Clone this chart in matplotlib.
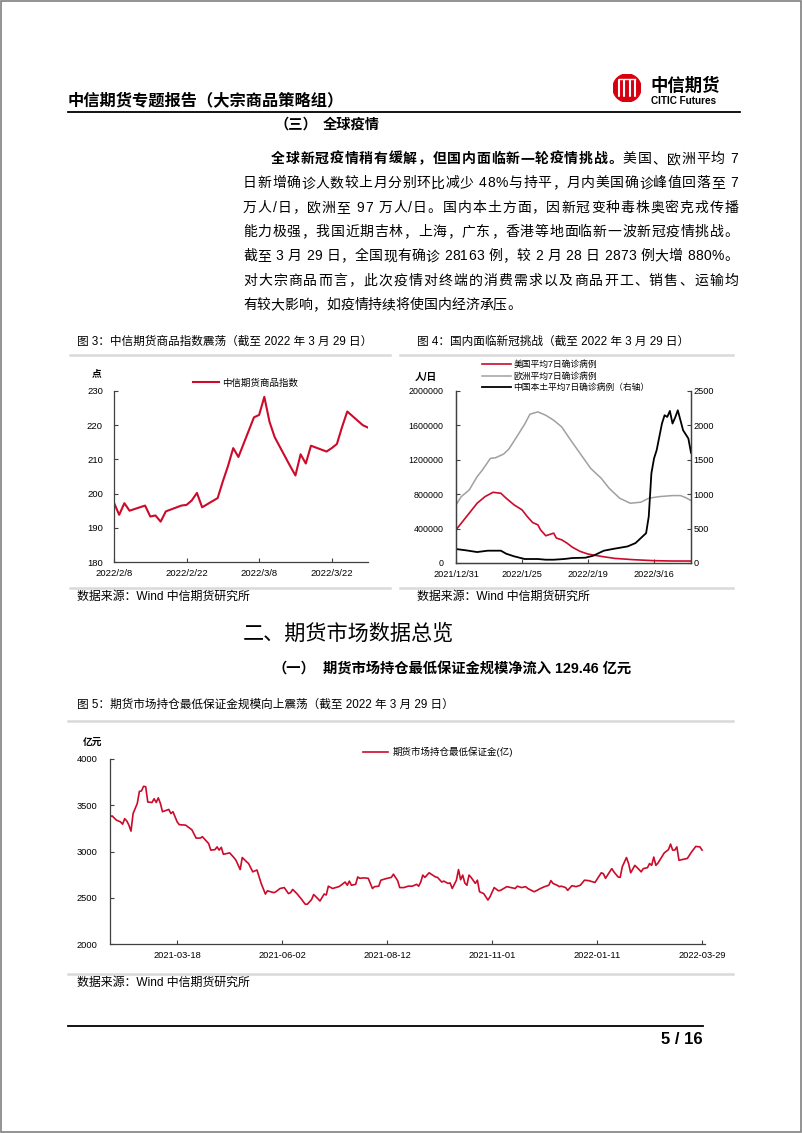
import numpy as np
import pandas as pd
import matplotlib
matplotlib.use("Agg")
import matplotlib.pyplot as plt
from matplotlib.lines import Line2D
from matplotlib.patches import Circle, Rectangle
from matplotlib.font_manager import FontProperties, findfont
from matplotlib.ft2font import FT2Font

FAMILY = ['Liberation Sans', 'Noto Sans CJK SC', 'DejaVu Sans']
plt.rcParams['font.family'] = FAMILY

RED = '#CC0A2A'
GRAY = '#A0A0A0'
AXC = '#404040'
SEP = '#D9D9D9'

# ---- data ----
# fig 3: CITIC futures commodity index (trading days)
idx_dates = ['2022-02-08', '2022-02-09', '2022-02-10', '2022-02-11', '2022-02-14',
             '2022-02-15', '2022-02-16', '2022-02-17', '2022-02-18', '2022-02-21',
             '2022-02-22', '2022-02-23', '2022-02-24', '2022-02-25', '2022-02-28',
             '2022-03-01', '2022-03-02', '2022-03-03', '2022-03-04', '2022-03-07',
             '2022-03-08', '2022-03-09', '2022-03-10', '2022-03-11', '2022-03-14',
             '2022-03-15', '2022-03-16', '2022-03-17', '2022-03-18', '2022-03-21',
             '2022-03-22', '2022-03-23', '2022-03-24', '2022-03-25', '2022-03-28',
             '2022-03-29']
idx_vals = [197.3, 193.8, 197.2, 195.0, 196.5, 193.3, 193.6, 191.8, 194.8, 196.5,
            196.7, 198.0, 200.2, 196.0, 198.7, 203.6, 208.1, 213.3, 210.7, 222.3,
            223.0, 228.3, 221.0, 216.5, 208.0, 205.3, 211.5, 208.8, 214.0, 212.3,
            213.3, 214.5, 219.5, 224.0, 220.0, 219.3]
idx_ticks = ['2022-02-08', '2022-02-22', '2022-03-08', '2022-03-22']
idx_ticklabels = ['2022/2/8', '2022/2/22', '2022/3/8', '2022/3/22']

# fig 4: 7-day average cases, days counted from 2021-12-31
us_day = [0, 4, 8, 11, 14, 17, 19, 22, 25, 27, 29, 31, 32, 34, 37, 38, 40, 42, 44,
          47, 50, 55, 60, 67, 75, 82, 89]
us_val = [386000, 540000, 695000, 772000, 822000, 811000, 753000, 676000, 618000,
          540000, 471000, 444000, 386000, 317000, 347000, 290000, 270000, 232000,
          185000, 135000, 104000, 77000, 54000, 39000, 27000, 23000, 23000]
eu_day = [0, 2, 5, 8, 10, 13, 15, 18, 20, 23, 26, 28, 31, 34, 37, 40, 43, 47, 51,
          55, 58, 62, 66, 70, 73, 77, 82, 85, 87, 89]
eu_val = [676000, 772000, 849000, 1004000, 1081000, 1216000, 1224000, 1266000,
          1324000, 1467000, 1614000, 1730000, 1757000, 1718000, 1660000, 1583000,
          1448000, 1274000, 1100000, 985000, 869000, 753000, 695000, 707000, 753000,
          772000, 784000, 784000, 760000, 726000]
cn_day = [0, 4, 8, 12, 17, 19, 22, 26, 31, 34, 37, 41, 44, 49, 52, 56, 60, 65, 68,
          70, 72, 73, 74, 75, 76, 78, 79, 80, 81, 82, 83, 84, 85, 86, 88, 89]
cn_val = [203, 183, 159, 179, 179, 135, 97, 58, 58, 48, 48, 58, 72, 77, 106, 179,
          208, 241, 290, 362, 434, 676, 1303, 1520, 1641, 2027, 2148, 2123, 2210,
          2027, 2114, 2220, 2075, 1930, 1810, 1602]
cov_ticks = [0, 25, 50, 75]
cov_ticklabels = ['2021/12/31', '2022/1/25', '2022/2/19', '2022/3/16']

# fig 5: futures margin (亿元), trading-day index
mg_idx = [0, 1, 3, 5, 6, 7, 8, 9, 10, 11, 13, 14, 15, 16, 17, 18, 20, 21, 22, 23,
          24, 25, 28, 29, 30, 32, 33, 36, 39, 41, 43, 44, 47, 48, 50, 51, 52, 53,
          54, 57, 59, 60, 62, 63, 65, 66, 68, 70, 72, 74, 75, 78, 79, 81, 83, 85,
          86, 87, 89, 91, 93, 94, 96, 97, 99, 100, 102, 103, 104, 106, 109, 110,
          112, 113, 114, 115, 117, 118, 119, 121, 123, 125, 126, 128, 129, 132,
          134, 135, 137, 138, 140, 142, 144, 146, 147, 148, 149, 150, 152, 155,
          156, 158, 159, 161, 162, 163, 165, 166, 167, 168, 169, 170, 171, 172,
          174, 175, 176, 178, 180, 181, 183, 185, 186, 189, 191, 193, 194, 196,
          198, 199, 202, 203, 205, 207, 209, 210, 211, 212, 213, 214, 215, 217,
          218, 220, 221, 222, 224, 226, 228, 231, 233, 234, 235, 236, 239, 240,
          242, 243, 244, 246, 247, 248, 250, 252, 253, 254, 256, 257, 258, 259,
          260, 261, 264, 266, 267, 268, 269, 270, 271, 273, 275, 277, 279, 281,
          282]
mg_val = [3375, 3385, 3340, 3320, 3295, 3355, 3330, 3285, 3220, 3410, 3520, 3650,
          3655, 3705, 3700, 3535, 3530, 3570, 3530, 3580, 3520, 3430, 3455, 3410,
          3430, 3320, 3290, 3285, 3235, 3145, 3145, 3160, 3085, 3015, 3020, 3050,
          3015, 3045, 2970, 2985, 2935, 2905, 2805, 2935, 2890, 2870, 2780, 2800,
          2655, 2540, 2575, 2555, 2565, 2600, 2610, 2545, 2555, 2590, 2545, 2490,
          2430, 2430, 2480, 2535, 2490, 2465, 2540, 2530, 2625, 2600, 2620, 2635,
          2670, 2635, 2680, 2635, 2645, 2725, 2710, 2715, 2710, 2600, 2620, 2625,
          2690, 2710, 2720, 2755, 2685, 2610, 2610, 2625, 2625, 2645, 2625, 2670,
          2745, 2720, 2770, 2725, 2720, 2670, 2680, 2655, 2660, 2600, 2690, 2805,
          2695, 2745, 2660, 2635, 2745, 2720, 2655, 2690, 2565, 2545, 2475, 2510,
          2610, 2575, 2580, 2620, 2610, 2600, 2625, 2610, 2620, 2600, 2565, 2575,
          2600, 2620, 2635, 2685, 2655, 2645, 2635, 2620, 2625, 2610, 2580, 2630,
          2625, 2620, 2635, 2690, 2685, 2665, 2735, 2770, 2760, 2710, 2815, 2780,
          2725, 2720, 2835, 2935, 2870, 2770, 2850, 2805, 2780, 2815, 2825, 2870,
          2850, 2940, 2850, 2875, 2985, 3020, 3080, 3015, 3015, 3050, 2905, 2915,
          2925, 2995, 3055, 3050, 3015]
mg_ticks = [32, 82, 132, 182, 232, 282]
mg_ticklabels = ['2021-03-18', '2021-06-02', '2021-08-12', '2021-11-01',
                 '2022-01-11', '2022-03-29']

para_lines = [
    [('全球新冠疫情稍有缓解，但国内面临新一轮疫情挑战。', 'bold'), ('美国、欧洲平均 7', 'normal')],
    [('日新增确诊人数较上月分别环比减少 48%与持平，月内美国确诊峰值回落至 7', 'normal')],
    [('万人/日，欧洲至 97 万人/日。国内本土方面，因新冠变种毒株奥密克戎传播', 'normal')],
    [('能力极强，我国近期吉林，上海，广东，香港等地面临新一波新冠疫情挑战。', 'normal')],
    [('截至 3 月 29 日，全国现有确诊 28163 例，较 2 月 28 日 2873 例大增 880%。', 'normal')],
    [('对大宗商品而言，此次疫情对终端的消费需求以及商品开工、销售、运输均', 'normal')],
    [('有较大影响，如疫情持续将使国内经济承压。', 'normal')],
]

# ---- page ----
W, H = 802, 1133
fig = plt.figure(figsize=(W / 100, H / 100), dpi=100)


def fx(x):
    return x / W


def fy(y):
    return 1 - y / H


def rect(l, t, r, b):
    return [l / W, 1 - b / H, (r - l) / W, (b - t) / H]


def ptext(x, y, s, size, weight='normal', ha='left', color='black'):
    fig.text(fx(x), fy(y), s, fontsize=size, fontweight=weight, ha=ha,
             va='center', color=color)


def hline(x0, x1, y, color='black', lw=1.0):
    fig.add_artist(Line2D([fx(x0), fx(x1)], [fy(y), fy(y)],
                          transform=fig.transFigure, color=color, lw=lw))


_fonts = {}


def advance(ch, weight, size):
    fam = 'Liberation Sans' if ord(ch) < 128 else 'Noto Sans CJK SC'
    key = (fam, weight)
    if key not in _fonts:
        _fonts[key] = FT2Font(findfont(FontProperties(family=fam, weight=weight)),
                              hinting_factor=1)
    f = _fonts[key]
    f.set_size(size, 100)
    return f.load_char(ord(ch)).linearHoriAdvance / 65536


def justify(segments, x0, x1, y, size, last=False):
    # spread the characters of one line evenly between x0 and x1
    chars = [(c, w) for s, w in segments for c in s]
    adv = [advance(c, w, size) for c, w in chars]
    gap = 0 if last else (x1 - x0 - sum(adv)) / (len(chars) - 1)
    x = x0
    for (c, w), a in zip(chars, adv):
        if c != ' ':
            fig.text(fx(x), fy(y), c, fontsize=size, fontweight=w,
                     ha='left', va='center')
        x += a + gap


# border
fig.add_artist(Rectangle((0.001, 0.001), 0.998, 0.998, transform=fig.transFigure,
                         fill=False, edgecolor='#808080', lw=1.2))

# header
ptext(68, 100, '中信期货专题报告（大宗商品策略组）', 11.7, 'bold')
hline(68, 740, 112, lw=1.3)
logo = fig.add_axes(rect(613, 74, 641, 102))
logo.set_xlim(-1, 1)
logo.set_ylim(-1, 1)
logo.set_aspect('equal')
logo.axis('off')
logo.add_patch(Circle((0, 0), 1, color='#D7000F'))
for xb in [-0.55, -0.2, 0.2, 0.55]:
    logo.plot([xb, xb], [-0.55, 0.55], color='white', lw=1.5, solid_capstyle='round')
logo.plot([-0.55, 0.55], [0.62, 0.62], color='white', lw=1.0)
ptext(650, 85, '中信期货', 12.5, 'bold')
ptext(651, 101, 'CITIC Futures', 7.2, 'bold')

# section (三)
ptext(275, 125, '（三）', 10.3, 'bold')
ptext(323, 125, '全球疫情', 10.3, 'bold')
for k, segs in enumerate(para_lines):
    y = 159 + k * 24.3
    x0 = 271 if k == 0 else 243
    justify(segs, x0, 738, y, 10, last=(k == len(para_lines) - 1))

# ---- figure 3 ----
ptext(77, 342, '图 3：中信期货商品指数震荡（截至 2022 年 3 月 29 日）', 8.4)
hline(70, 390, 355, SEP, 1.8)
hline(70, 390, 588, SEP, 1.8)
ptext(77, 597, '数据来源：Wind 中信期货研究所', 8.6)
ptext(92, 373, '点', 7, 'bold')


def style_axes(ax, sides=('left', 'bottom')):
    for s in ['left', 'right', 'top', 'bottom']:
        ax.spines[s].set_visible(s in sides)
        ax.spines[s].set_color(AXC)
        ax.spines[s].set_linewidth(0.9)
    ax.tick_params(direction='in', length=3, width=0.8, color=AXC)
    ax.patch.set_alpha(0)


ax3 = fig.add_axes(rect(114, 391, 368, 562))
style_axes(ax3)
start3 = pd.Timestamp('2022-02-08')
x3 = (pd.to_datetime(idx_dates) - start3).days
ax3.plot(x3, idx_vals, color=RED, lw=1.5, label='中信期货商品指数')
ax3.set_xlim(0, 49)
ax3.set_ylim(180, 230)
ax3.set_yticks(np.arange(180, 231, 10))
ax3.set_xticks((pd.to_datetime(idx_ticks) - start3).days)
ax3.set_xticklabels(idx_ticklabels)
ax3.tick_params(axis='y', labelsize=6.8, pad=8)
ax3.tick_params(axis='x', labelsize=6.8, pad=5)
ax3.legend(loc='center left', bbox_to_anchor=(fx(193), fy(383)),
           bbox_transform=fig.transFigure, frameon=False, fontsize=6.8,
           handlelength=2.7, handletextpad=0.4, borderpad=0, borderaxespad=0)

# ---- figure 4 ----
ptext(417, 342, '图 4：国内面临新冠挑战（截至 2022 年 3 月 29 日）', 8.4)
hline(400, 733, 355, SEP, 1.8)
hline(400, 733, 588, SEP, 1.8)
ptext(417, 597, '数据来源：Wind 中信期货研究所', 8.6)
ptext(415, 377, '人/日', 7, 'bold')

ax4 = fig.add_axes(rect(456, 391, 691, 563))
style_axes(ax4, ('left', 'bottom', 'right'))
ax4r = ax4.twinx()
style_axes(ax4r, ('left', 'bottom', 'right'))
l_us, = ax4.plot(us_day, us_val, color=RED, lw=1.2, label='美国平均7日确诊病例')
l_eu, = ax4.plot(eu_day, eu_val, color=GRAY, lw=1.1, label='欧洲平均7日确诊病例')
l_cn, = ax4r.plot(cn_day, cn_val, color='black', lw=1.3, label='中国本土平均7日确诊病例（右轴）')
ax4.set_xlim(0, 89)
ax4.set_ylim(0, 2000000)
ax4r.set_ylim(0, 2500)
ax4.set_yticks(np.arange(0, 2000001, 400000))
ax4.set_yticklabels([str(v) for v in range(0, 2000001, 400000)])
ax4r.set_yticks(np.arange(0, 2501, 500))
ax4.set_xticks(cov_ticks)
ax4.set_xticklabels(cov_ticklabels)
ax4.tick_params(axis='y', labelsize=6.4, pad=9)
ax4.tick_params(axis='x', labelsize=6.6, pad=5)
ax4r.tick_params(axis='y', labelsize=6.6, pad=2)
ax4r.legend(handles=[l_us, l_eu, l_cn], loc='upper left',
            bbox_to_anchor=(fx(482), fy(360)), bbox_transform=fig.transFigure,
            frameon=False, fontsize=6.3, handlelength=3.3, handletextpad=0.3,
            labelspacing=0.3, borderpad=0, borderaxespad=0)

# ---- section 二 ----
ptext(243, 633, '二、期货市场数据总览', 15.2)
ptext(272, 669, '（一）', 10.3, 'bold')
ptext(323, 669, '期货市场持仓最低保证金规模净流入 129.46 亿元', 10.3, 'bold')

# ---- figure 5 ----
ptext(77, 705, '图 5：期货市场持仓最低保证金规模向上震荡（截至 2022 年 3 月 29 日）', 8.4)
hline(68, 733, 721, SEP, 1.8)
hline(68, 733, 974, SEP, 1.8)
ptext(77, 983, '数据来源：Wind 中信期货研究所', 8.6)
ptext(83, 742, '亿元', 7, 'bold')

ax5 = fig.add_axes(rect(110, 759, 705, 944))
style_axes(ax5)
ax5.plot(mg_idx, mg_val, color=RED, lw=1.2, label='期货市场持仓最低保证金(亿)')
ax5.set_xlim(0, 283.4)
ax5.set_ylim(2000, 4000)
ax5.set_yticks(np.arange(2000, 4001, 500))
ax5.set_xticks(mg_ticks)
ax5.set_xticklabels(mg_ticklabels)
ax5.tick_params(axis='y', labelsize=6.7, pad=9)
ax5.tick_params(axis='x', labelsize=6.7, pad=5)
ax5.legend(loc='center left', bbox_to_anchor=(fx(363), fy(752)),
           bbox_transform=fig.transFigure, frameon=False, fontsize=6.8,
           handlelength=2.6, handletextpad=0.5, borderpad=0, borderaxespad=0)

# footer
hline(68, 703, 1026, lw=1.3)
ptext(703, 1040, '5 / 16', 12, 'bold', ha='right')

fig.savefig('out.png', dpi=100)
